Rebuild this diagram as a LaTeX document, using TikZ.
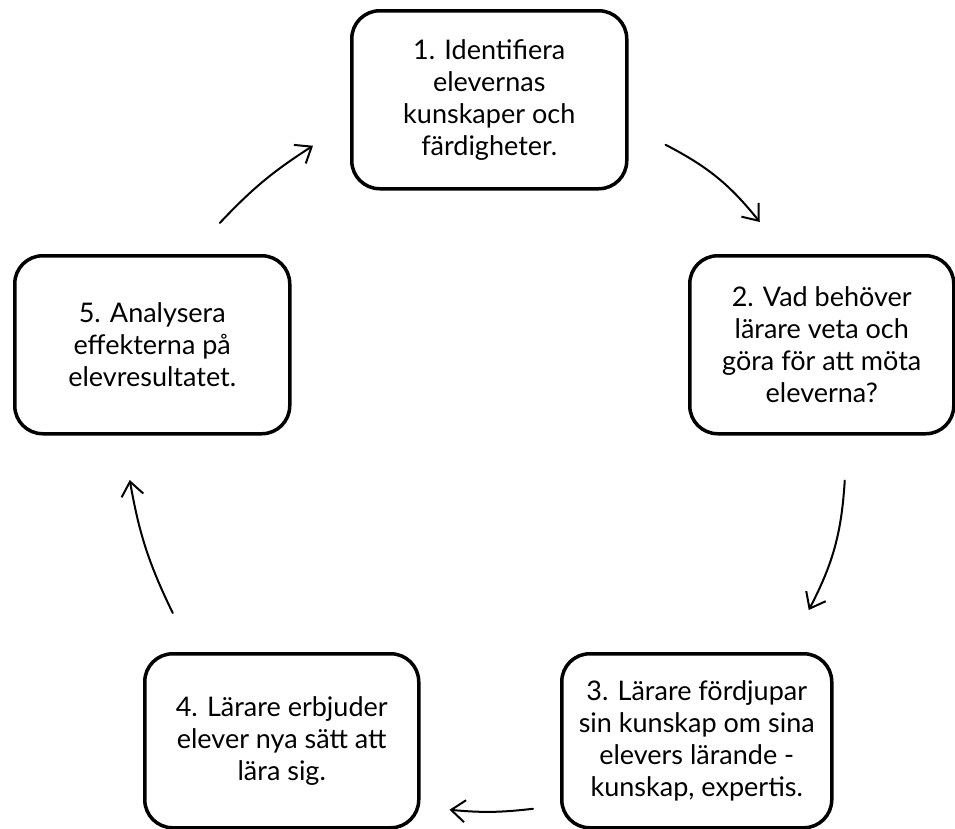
\documentclass[tikz,border=0pt]{standalone}
\usepackage{fontspec}
\setmainfont{Lato}
\usetikzlibrary{calc,arrows.meta}

\begin{document}
\begin{tikzpicture}[
		x=1pt,y=1pt,
		stepbox/.style={draw,line width=3.5pt,rounded corners=28pt,align=center,
			node font=\fontsize{27}{32}\selectfont,inner sep=0pt,
			minimum width=275pt,minimum height=178pt,anchor=north west},
		cycle_arrow/.style={line width=2pt,line cap=round,
			-{Straight Barb[length=14pt,width=22pt]}},
	]
	\useasboundingbox (0,0) rectangle (955,-828);
	%
	\node[stepbox]                        (identify) at (350,-9)   {1. Identifiera \\ elevernas \\ kunskaper och \\ färdigheter.};
	\node[stepbox,minimum width=264pt]    (needs)    at (688,-254) {2. Vad behöver \\ lärare veta och \\ göra för att möta \\ eleverna?};
	\node[stepbox,minimum width=270pt,minimum height=174pt] (deepen) at (560,-652) {3. Lärare fördjupar \\ sin kunskap om sina \\ elevers lärande - \\ kunskap, expertis.};
	\node[stepbox,minimum width=274pt,minimum height=174pt] (offer)  at (143,-652) {4. Lärare erbjuder \\ elever nya sätt att \\ lära sig.};
	\node[stepbox]                        (analyse)  at (13,-254)  {5. Analysera \\ effekterna på \\ elevresultatet.};
	%
	\draw[cycle_arrow] ($ (identify.east) + (37,-45) $) to[bend left=12] ($ (needs.north) + (-62,32) $);
	\draw[cycle_arrow] ($ (needs.south) + (23,-45) $)   to[bend left=12] ($ (deepen.north) + (112,42) $);
	\draw[cycle_arrow] ($ (deepen.west) + (-27,-68) $)  to[bend left=6]  ($ (offer.east) + (29,-69) $);
	\draw[cycle_arrow] ($ (offer.north) + (-109,39) $)  to[bend left=8]  ($ (analyse.south) + (-22.5,-44.5) $);
	\draw[cycle_arrow] ($ (analyse.north) + (67.5,31) $) to[bend left=7] ($ (identify.west) + (-37,-46) $);
\end{tikzpicture}
\end{document}
